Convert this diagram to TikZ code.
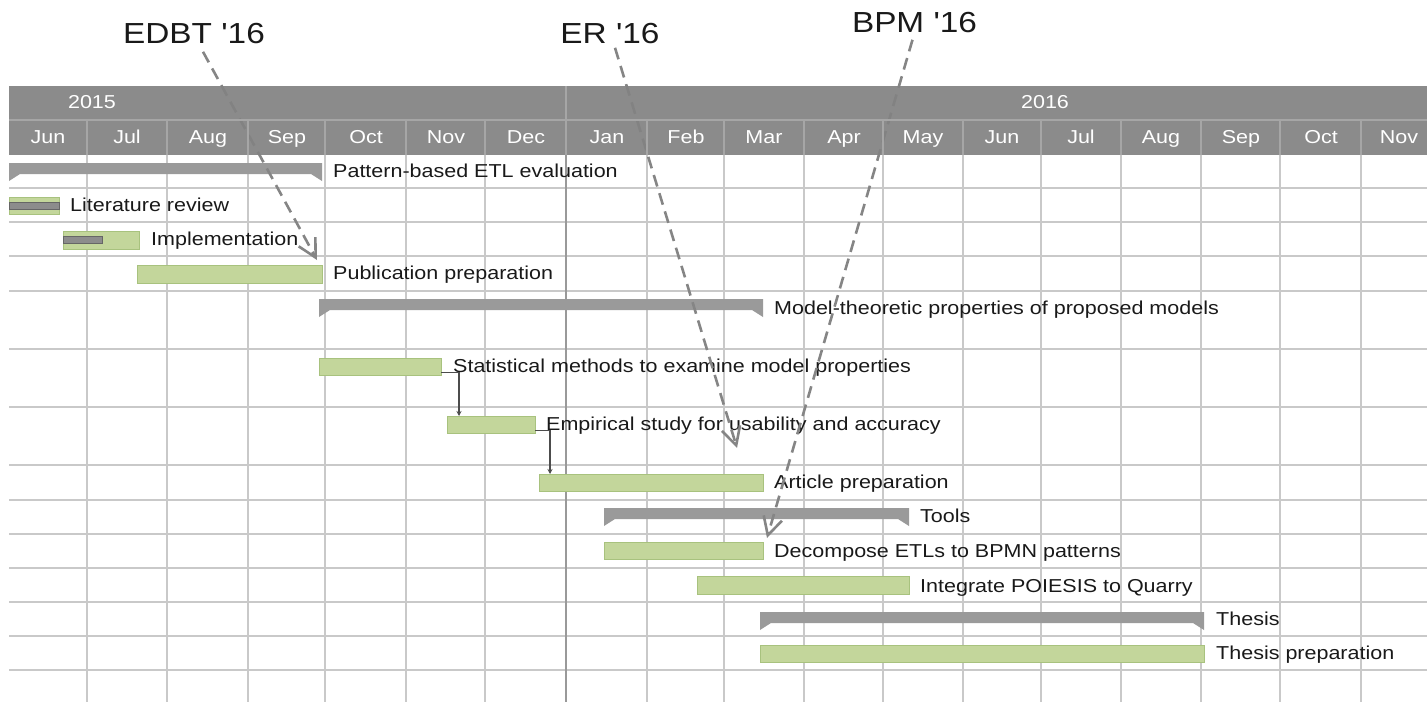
\documentclass[tikz,border=0pt]{standalone}
\usepackage{fontspec}
\setmainfont{Liberation Sans}[FakeStretch=1.15,Ligatures=TeXOff]
\usetikzlibrary{arrows.meta,calc}

\definecolor{hdr}{HTML}{828282}
\definecolor{hdrline}{HTML}{A6A6A6}
\definecolor{gridc}{HTML}{C9C9C9}
\definecolor{sumc}{HTML}{9A9A9A}
\definecolor{taskfill}{HTML}{C3D69B}
\definecolor{taskline}{HTML}{A8C27E}
\definecolor{progfill}{HTML}{8C8C8C}
\definecolor{msline}{HTML}{858585}

% summary bar with downward end notches: x1, x2, top
\newcommand{\summarybar}[3]{%
  \fill[sumbar] (#1,#3) -- (#2,#3) -- (#2,#3+18) -- (#2-11,#3+11)
    -- (#1+11,#3+11) -- (#1,#3+18) -- cycle;}

\begin{document}
\begin{tikzpicture}[x=1pt,y=-1pt,
  taskbox/.style={draw=taskline, fill=taskfill, line width=0.8pt,
    inner sep=0pt, outer sep=0pt, anchor=north west},
  progbox/.style={draw=black!60, fill=progfill, line width=0.8pt,
    inner sep=0pt, outer sep=0pt, anchor=north west},
  lbl/.style={anchor=base west, inner sep=0pt, text=black!90,
    font=\fontsize{18.7}{20}\selectfont},
  hdrtext/.style={text=white, inner sep=0pt, anchor=base,
    font=\fontsize{18.7}{20}\selectfont},
  mstext/.style={inner sep=0pt, anchor=base, text=black!90,
    font=\fontsize{29}{32}\selectfont},
  milestone/.style={draw=msline, line width=2.6pt,
    dash pattern=on 12pt off 7pt,
    -{Straight Barb[length=18pt,width=19pt,line width=2.6pt]}},
  depend/.style={draw=black!70, line width=1.1pt,
    -{Stealth[length=5pt,width=5pt]}},
  gridline/.style={draw=gridc, line width=1.4pt},
  sumbar/.style={fill=sumc}
]
\useasboundingbox (0,0) rectangle (1427,702);

% ---- grid ----
\foreach \y in {188,222,256,291,349,407,465,500,534,568,602,636,670}
  \draw[gridline] (9,\y) -- (1427,\y);
\foreach \x in {87,167,248,325,406,485,647,724,804,883,963,1041,1121,1201,1280,1361}
  \draw[gridline] (\x,155) -- (\x,702);
\draw[gridline, draw=black!40] (566,155) -- (566,702);

% ---- summary bars ----
\summarybar{9}{322}{163}
\summarybar{319}{763}{299}
\summarybar{604}{909}{508}
\summarybar{760}{1204}{612}
\node[lbl] (s1) at (333,177.5) {Pattern-based ETL evaluation};
\node[lbl] (s2) at (774,314.5) {Model-theoretic properties of proposed models};
\node[lbl] (s3) at (920,522.3) {Tools};
\node[lbl] (s4) at (1216,625) {Thesis};

% ---- tasks ----
\node[taskbox, minimum width=50pt,  minimum height=17pt] (t1) at (9,197) {};
\node[progbox, minimum width=50pt,  minimum height=7pt]  (p1) at (9,202) {};
\node[taskbox, minimum width=76pt,  minimum height=18pt] (t2) at (63,231) {};
\node[progbox, minimum width=39pt,  minimum height=7pt]  (p2) at (63,236) {};
\node[taskbox, minimum width=185pt, minimum height=18pt] (t3) at (137,265) {};
\node[taskbox, minimum width=122pt, minimum height=17pt] (t4) at (319,358) {};
\node[taskbox, minimum width=88pt,  minimum height=17pt] (t5) at (447,416) {};
\node[taskbox, minimum width=224pt, minimum height=17pt] (t6) at (539,474) {};
\node[taskbox, minimum width=159pt, minimum height=17pt] (t7) at (604,542) {};
\node[taskbox, minimum width=212pt, minimum height=18pt] (t8) at (697,576) {};
\node[taskbox, minimum width=444pt, minimum height=17pt] (t9) at (760,645) {};

\node[lbl] (l1) at (70,211.7)  {Literature review};
\node[lbl] (l2) at (151,245.7) {Implementation};
\node[lbl] (l3) at (333,279.5) {Publication preparation};
\node[lbl] (l4) at (453,372)   {Statistical methods to examine model properties};
\node[lbl] (l5) at (546,430.7) {Empirical study for usability and accuracy};
\node[lbl] (l6) at (774,488.7) {Article preparation};
\node[lbl] (l7) at (774,557.3) {Decompose ETLs to BPMN patterns};
\node[lbl] (l8) at (920,592)   {Integrate POIESIS to Quarry};
\node[lbl] (l9) at (1216,659.3){Thesis preparation};

% ---- dependencies ----
\draw[depend] ([yshift=-6pt]t4.east) -| ([xshift=12pt]t5.north west);
\draw[depend] ([yshift=-6pt]t5.east) -| ([xshift=11pt]t6.north west);

% ---- milestones ----
\node[mstext] (m1) at (194,43.3) {EDBT '16};
\node[mstext] (m2) at (610,43.3) {ER '16};
\node[mstext] (m3) at (914.5,32.3) {BPM '16};
\coordinate (m1end) at (317,260);
\coordinate (m2end) at (737,448);
\coordinate (m3end) at (767,538);
\draw[milestone] ([shift={(9,8)}]m1.south) -- (m1end);
\draw[milestone] ([shift={(5,4)}]m2.south) -- (m2end);
\draw[milestone] ([shift={(-2,7)}]m3.south) -- (m3end);

% ---- timescale header ----
\fill[hdr, fill opacity=0.93] (9,86) rectangle (1427,155);
\draw[hdrline, line width=1.2pt] (9,120) -- (1427,120);
\foreach \x in {87,167,248,325,406,485,647,724,804,883,963,1041,1121,1201,1280,1361}
  \draw[hdrline, line width=1.2pt] (\x,120) -- (\x,155);
\draw[hdrline, line width=1.2pt] (566,86) -- (566,155);

\node[hdrtext] (y15) at (92,108.3) {2015};
\node[hdrtext] (y16) at (1045,108.3) {2016};
\foreach \c/\m [count=\i] in {48/Jun,127/Jul,208/Aug,287/Sep,366/Oct,446/Nov,526/Dec,
  607/Jan,686/Feb,764/Mar,844/Apr,923/May,1002/Jun,1081/Jul,1161/Aug,1241/Sep,1321/Oct,1399/Nov}
  \node[hdrtext] (mo\i) at (\c,143.3) {\m};
\end{tikzpicture}
\end{document}
